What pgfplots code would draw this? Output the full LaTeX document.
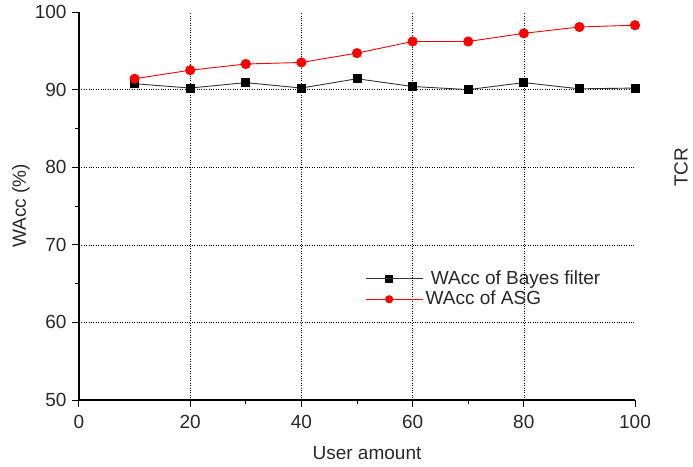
\documentclass[border=0pt]{standalone}
\usepackage{fontspec}
\setmainfont{Liberation Sans}
\usepackage{pgfplots}
\pgfplotsset{compat=1.18}
\definecolor{txt}{RGB}{40,40,40}
\begin{document}
\fontsize{19}{22}\selectfont
\begin{tikzpicture}
\useasboundingbox (-79pt,-66pt) rectangle (614pt,400pt);
\begin{axis}[
  scale only axis, width=556pt, height=388pt,
  xmin=0, xmax=100, ymin=50, ymax=100,
  axis lines=left, axis line style={black, line width=1.2pt, -},
  tick align=outside, tick style={black, line width=1pt},
  major tick length=7pt, minor tick length=4pt,
  xtick={20,40,60,80}, extra x ticks={0,100},
  ytick={60,70,80,90}, extra y ticks={50,100},
  extra tick style={grid=none},
  minor x tick num=1, minor y tick num=1,
  grid=major, major grid style={black, dotted, line width=0.6pt},
  /pgf/number format/assume math mode=true,
  ticklabel style={font=\fontsize{19}{22}\selectfont, text=txt},
  xticklabel style={yshift=-2pt},
  yticklabel style={xshift=1pt},
  label style={font=\fontsize{19}{22}\selectfont, text=txt},
  xlabel={User amount}, ylabel={WAcc (\%)},
  xlabel style={yshift=9pt, xshift=10pt},
  ylabel style={yshift=-15pt},
  legend style={at={(0.51,0.345)}, anchor=north west, draw=none, fill=none,
    font=\fontsize{19}{22}\selectfont, text=txt, row sep=0pt},
  legend cell align=left,
  legend image code/.code={\draw[mark repeat=2,mark phase=2,#1, mark size=3.6pt] plot coordinates {(0pt,0pt) (23pt,0pt) (46pt,0pt)}; \path (0pt,0pt) -- (57pt,0pt);},
  clip=false,
]
\addplot[black!80, line width=0.9pt, mark=square*, mark size=4pt, mark options={fill=black, draw=black, solid}]
  coordinates {(10,90.76) (20,90.2) (30,90.9) (40,90.2) (50,91.4) (60,90.4) (70,90.0) (80,90.9) (90,90.1) (100,90.2)};
\addlegendentry{\ WAcc of Bayes filter}
\addplot[red, line width=0.9pt, mark=*, mark size=4.6pt, mark options={fill=red, draw=red, solid}]
  coordinates {(10,91.4) (20,92.5) (30,93.3) (40,93.5) (50,94.7) (60,96.2) (70,96.2) (80,97.25) (90,98.07) (100,98.3)};
\addlegendentry{WAcc of ASG}
\node[rotate=90, text=txt, font=\fontsize{19}{22}\selectfont] at (rel axis cs:1.083,0.6) {TCR};
\end{axis}
\end{tikzpicture}
\end{document}
